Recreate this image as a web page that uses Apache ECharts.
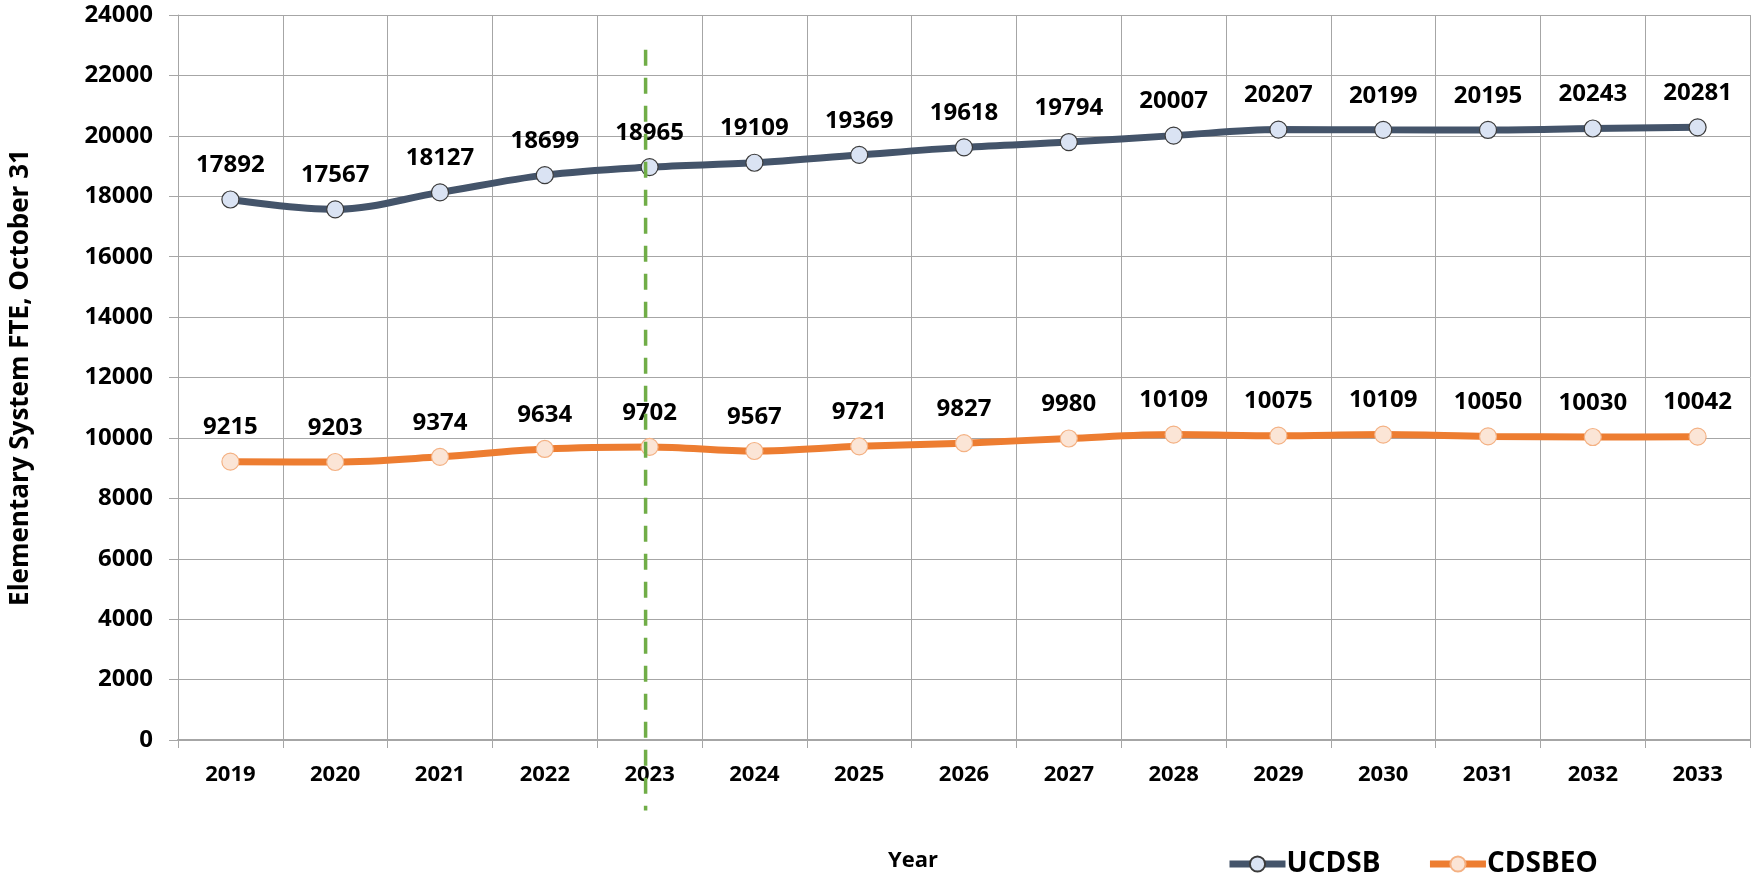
<!DOCTYPE html>
<html>
<head>
<meta charset="utf-8">
<script src="https://cdn.jsdelivr.net/npm/echarts@6/dist/echarts.min.js"></script>
<style>
html, body { margin: 0; padding: 0; background: #fff; }
#myChart { width: 1752px; height: 878px; }
</style>
</head>
<body>
<div id="myChart"></div>
<script>
// data
const years = ['2019', '2020', '2021', '2022', '2023', '2024', '2025', '2026', '2027', '2028', '2029', '2030', '2031', '2032', '2033']
const ucdsb = [17892, 17567, 18127, 18699, 18965, 19109, 19369, 19618, 19794, 20007, 20207, 20199, 20195, 20243, 20281]
const cdsbeo = [9215, 9203, 9374, 9634, 9702, 9567, 9721, 9827, 9980, 10109, 10075, 10109, 10050, 10030, 10042]
// dashed marker at the current year, running a bit past the plot at both ends
const markYear = '2023'
const markFrom = 22850
const markTo = -2330

const font = '"Open Sans", "Noto Sans", sans-serif'
const gridColor = '#a6a6a6'

const myChart = echarts.init(document.getElementById('myChart'))

const labelStyle = {
  show: true,
  position: 'top',
  distance: 13,
  fontFamily: font,
  fontWeight: 'bold',
  fontSize: 24,
  color: '#000'
}

const option = {
  animation: false,
  textStyle: { fontFamily: font },
  grid: { left: 176, right: 2, top: 15, bottom: 138 },
  legend: {
    data: ['UCDSB', 'CDSBEO'],
    left: 1221,
    top: 845,
    itemWidth: 56,
    itemHeight: 19,
    itemGap: 46,
    lineStyle: { width: 7 },
    textStyle: { fontFamily: font, fontWeight: 'bold', fontSize: 28, color: '#000', padding: [0, 0, 0, -4] }
  },
  title: {
    text: 'Year',
    left: 883,
    top: 845,
    textStyle: { fontFamily: font, fontWeight: 'bold', fontSize: 22, color: '#000' }
  },
  xAxis: {
    type: 'category',
    data: years,
    boundaryGap: true,
    axisLine: { lineStyle: { color: gridColor, width: 2 } },
    axisTick: { show: true, length: 8, lineStyle: { color: gridColor } },
    splitLine: { show: true, lineStyle: { color: gridColor, width: 1 } },
    axisLabel: { margin: 24, fontFamily: font, fontWeight: 'bold', fontSize: 22, color: '#000' }
  },
  yAxis: {
    type: 'value',
    min: 0,
    max: 24000,
    interval: 2000,
    name: 'Elementary System FTE, October 31',
    nameLocation: 'middle',
    nameGap: 144,
    nameTextStyle: { fontFamily: font, fontWeight: 'bold', fontSize: 26, color: '#000' },
    axisLine: { show: true, lineStyle: { color: gridColor, width: 1 } },
    axisTick: { show: true, length: 9, lineStyle: { color: gridColor } },
    splitLine: { show: true, lineStyle: { color: gridColor, width: 1 } },
    axisLabel: {
      margin: 25,
      fontFamily: font,
      fontWeight: 'bold',
      fontSize: 24,
      color: '#000',
      formatter: v => String(v)
    }
  },
  series: [
    {
      name: 'UCDSB',
      type: 'line',
      smooth: 0.35,
      data: ucdsb,
      symbol: 'circle',
      symbolSize: 17,
      lineStyle: { color: '#44546a', width: 7 },
      itemStyle: { color: '#dae3f3', borderColor: '#3b3b3b', borderWidth: 1.2 },
      label: labelStyle
    },
    {
      name: 'CDSBEO',
      type: 'line',
      smooth: 0.35,
      data: cdsbeo,
      symbol: 'circle',
      symbolSize: 17,
      lineStyle: { color: '#ed7d31', width: 7 },
      itemStyle: { color: '#fbe5d6', borderColor: '#f4b183', borderWidth: 1.2 },
      label: labelStyle
    }
  ]
}

myChart.setOption(option)

// the dashed line leaves the grid, so place it through the axes' own scales
const p1 = myChart.convertToPixel({ gridIndex: 0 }, [markYear, markFrom])
const p2 = myChart.convertToPixel({ gridIndex: 0 }, [markYear, markTo])
myChart.setOption({
  graphic: [{
    type: 'line',
    silent: true,
    z: 10,
    shape: { x1: p1[0] - 4, y1: p1[1], x2: p2[0] - 4, y2: p2[1] },
    style: { stroke: '#70ad47', lineWidth: 3.5, lineDash: [16, 12] }
  }]
})
</script>
</body>
</html>
